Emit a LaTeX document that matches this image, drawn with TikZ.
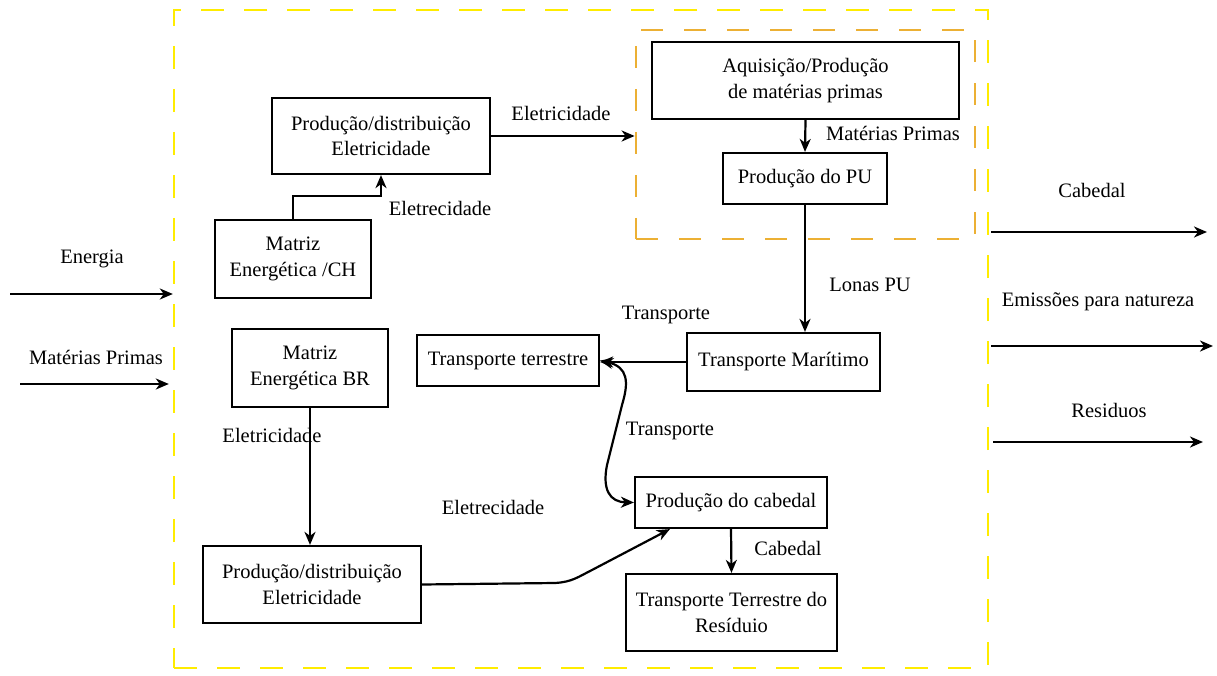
\documentclass[tikz,border=0pt]{standalone}
\usepackage{fontspec}
\setmainfont{Liberation Serif}
\usetikzlibrary{arrows.meta}
\definecolor{sysyellow}{RGB}{255,236,0}
\definecolor{puorange}{RGB}{236,176,52}
\begin{document}
\begin{tikzpicture}[x=1pt,y=-1pt,
  font=\rmfamily\fontsize{20.5}{25.5}\selectfont,
  proc/.style={draw, line width=2.2pt, align=center, inner sep=0pt},
  lbl/.style={inner sep=0pt, align=center},
  flow/.style={line width=2.2pt, -{Stealth[length=13pt,width=11pt,inset=4pt]}},
  flowboth/.style={line width=2.2pt, {Stealth[length=13pt,width=11pt,inset=4pt]}-{Stealth[length=13pt,width=11pt,inset=4pt]}}]
\useasboundingbox (0,0) rectangle (1217,676);

% system boundary and the PU sub-system
\node[draw=sysyellow, line width=2.4pt, dash pattern=on 23pt off 20pt,
      minimum width=814pt, minimum height=658pt, inner sep=0pt] (sys) at (581,339) {};
\node[draw=puorange, line width=2.8pt, dash pattern=on 22pt off 21pt,
      minimum width=339pt, minimum height=209pt, inner sep=0pt] (pubox) at (805.5,134.5) {};

% process boxes
\node[proc, minimum width=218pt, minimum height=76pt] (prodA) at (381,136) {Produção/distribuição\\Eletricidade};
\node[proc, minimum width=156pt, minimum height=78pt] (matCH) at (293,259) {Matriz\\Energética /CH};
\node[proc, minimum width=307pt, minimum height=77pt] (aquis) at (805.5,80.5) {Aquisição/Produção\\de matérias primas};
\node[proc, minimum width=164pt, minimum height=51pt] (prodPU) at (805,178.5) {Produção do PU};
\node[proc, minimum width=182pt, minimum height=51pt] (transT) at (508,360.5) {Transporte terrestre};
\node[proc, minimum width=193pt, minimum height=58pt] (transM) at (783.5,362) {Transporte Marítimo};
\node[proc, minimum width=192pt, minimum height=51pt] (cabedal) at (731,502.5) {Produção do cabedal};
\node[proc, minimum width=211pt, minimum height=77pt] (residuo) at (731.5,612.5) {Transporte Terrestre do\\Resíduio};
\node[proc, minimum width=156pt, minimum height=78pt] (matBR) at (310,368) {Matriz\\Energética BR};
\node[proc, minimum width=218pt, minimum height=77pt] (prodB) at (312,584.5) {Produção/distribuição\\Eletricidade};

% internal flows
\draw[flow] (matCH.north) -- ++(0,-23) -| (prodA.south);
\draw[flow] (prodA.east) -- (prodA.east -| pubox.west);
\draw[flow] (aquis.south) -- (prodPU.north);
\draw[flow] (prodPU.south) -- (prodPU.south |- transM.north);
\draw[flow] (transM.west) -- (transM.west -| transT.east);
\draw[flowboth] (transT.east) .. controls (628,367) and (629,382) .. (622,405)
   -- (607,465) .. controls (602,490) and (610,502) .. (cabedal.west);
\draw[flow] (prodB.east) -- (555,583) .. controls (572,582) and (578,577) .. (592,570)
   -- ([xshift=36pt]cabedal.south west);
\draw[flow] (matBR.south) -- (matBR.south |- prodB.north);
\draw[flow] (cabedal.south) -- (residuo.north);

% flows across the boundary
\coordinate (inE) at (10,294);
\coordinate (inM) at (20,384);
\coordinate (outC) at (1207,232);
\coordinate (outE) at (1213,346);
\coordinate (outR) at (1203,442);
\draw[flow] (inE) -- (inE -| sys.west);
\draw[flow] (inM) -- ([xshift=-4pt]inM -| sys.west);
\draw[flow] ([xshift=2pt]outC -| sys.east) -- (outC);
\draw[flow] ([xshift=2pt]outE -| sys.east) -- (outE);
\draw[flow] ([xshift=4pt]outR -| sys.east) -- (outR);

% flow labels
\node[lbl] (lEletA) at (561,113) {Eletricidade};
\node[lbl] (lEletCH) at (440,208) {Eletrecidade};
\node[lbl] (lMat) at (893,133) {Matérias Primas};
\node[lbl] (lLonas) at (870,285) {Lonas PU};
\node[lbl] (lTrans1) at (666,315) {Transporte};
\node[lbl] (lTrans2) at (670,431) {Transporte};
\node[lbl] (lEletB) at (493,507) {Eletrecidade};
\node[lbl] (lEletBR) at (272,435) {Eletricidade};
\node[lbl] (lCab) at (788,548) {Cabedal};
\node[lbl] (lEnergia) at (92,259) {Energia};
\node[lbl] (lMatIn) at (96,357) {Matérias Primas};
\node[lbl] (lCabOut) at (1092,190) {Cabedal};
\node[lbl] (lEmis) at (1098,302) {Emissões para natureza};
\node[lbl] (lRes) at (1109,410) {Residuos};
\end{tikzpicture}
\end{document}
